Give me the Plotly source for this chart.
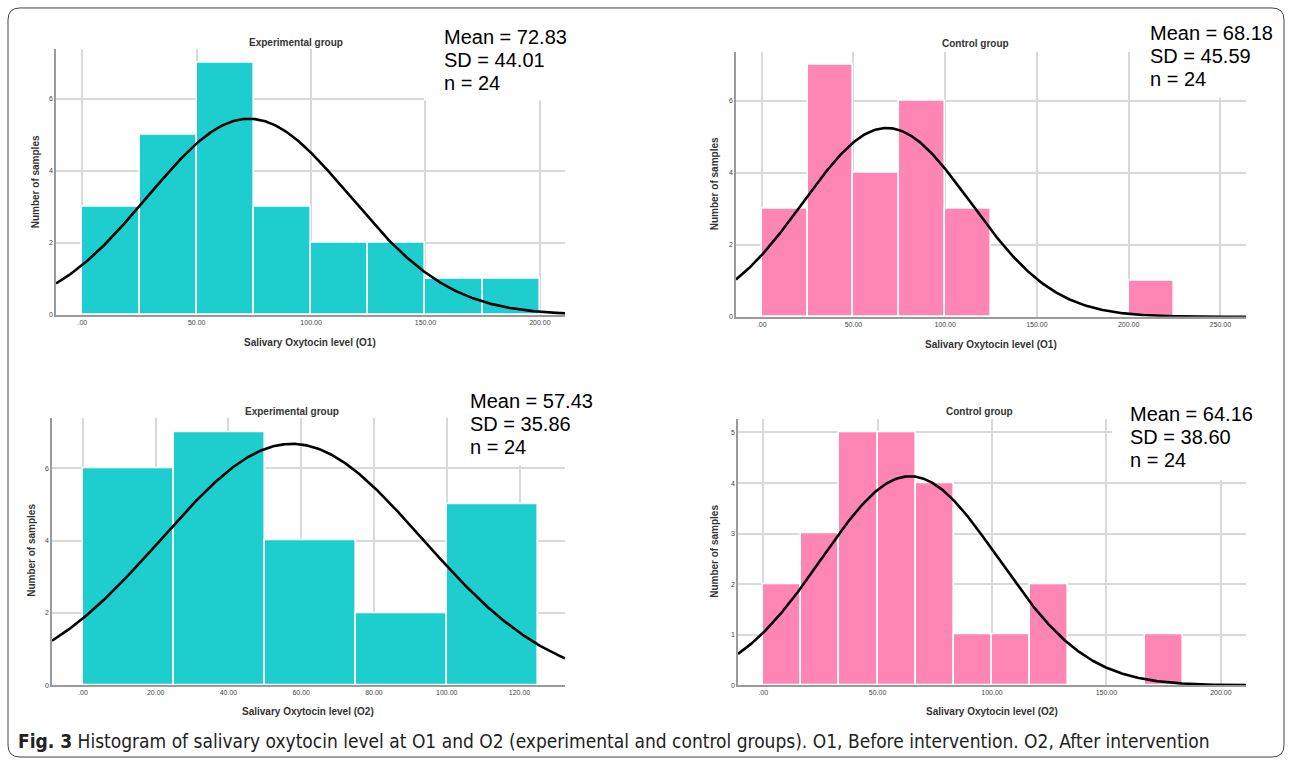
import numpy as np
import plotly.graph_objects as go

W, H = 1292, 764

# ---------------- data ----------------
panel_titles = ["Experimental group", "Control group", "Experimental group", "Control group"]
x_titles = ["Salivary Oxytocin level (O1)", "Salivary Oxytocin level (O1)",
            "Salivary Oxytocin level (O2)", "Salivary Oxytocin level (O2)"]

exp_o1_bins = [0, 25, 50, 75, 100, 125, 150, 175]
exp_o1_counts = [3, 5, 7, 3, 2, 2, 1, 1]
exp_o1_width = 25

ctl_o1_bins = [0, 25, 50, 75, 100, 200]
ctl_o1_counts = [3, 7, 4, 6, 3, 1]
ctl_o1_width = 25

exp_o2_bins = [0, 25, 50, 75, 100]
exp_o2_counts = [6, 7, 4, 2, 5]
exp_o2_width = 25

ctl_o2_bins = [0, 16.667, 33.333, 50, 66.667, 83.333, 100, 116.667, 166.667]
ctl_o2_counts = [2, 3, 5, 5, 4, 1, 1, 2, 1]
ctl_o2_width = 16.667

means = [72.83, 68.18, 57.43, 64.16]
sds = [44.01, 45.59, 35.86, 38.60]
ns = [24, 24, 24, 24]

xtick_vals = [[0, 50, 100, 150, 200], [0, 50, 100, 150, 200, 250],
              [0, 20, 40, 60, 80, 100, 120], [0, 50, 100, 150, 200]]
xtick_text = [[".00", "50.00", "100.00", "150.00", "200.00"],
              [".00", "50.00", "100.00", "150.00", "200.00", "250.00"],
              [".00", "20.00", "40.00", "60.00", "80.00", "100.00", "120.00"],
              [".00", "50.00", "100.00", "150.00", "200.00"]]
ytick_vals = [[0, 2, 4, 6], [0, 2, 4, 6], [0, 2, 4, 6], [0, 1, 2, 3, 4, 5]]

caption_bold = "Fig. 3"
caption_text = ("Histogram of salivary oxytocin level at O1 and O2 (experimental and control groups). "
                "O1, Before intervention. O2, After intervention")

# ---------------- layout geometry (pixels) ----------------
TEAL = "#1ecdcd"
PINK = "#ff85b4"
colors = [TEAL, PINK, TEAL, PINK]
bins_all = [exp_o1_bins, ctl_o1_bins, exp_o2_bins, ctl_o2_bins]
counts_all = [exp_o1_counts, ctl_o1_counts, exp_o2_counts, ctl_o2_counts]
widths_all = [exp_o1_width, ctl_o1_width, exp_o2_width, ctl_o2_width]

boxes = [(56, 565, 49, 316), (736, 1246, 52, 318), (52, 565, 420, 688), (738, 1246, 421, 688)]
xranges = [[-11.5, 211], [-14, 264], [-8.5, 132.5], [-11, 211]]
yranges = [[0, 7.38], [0, 7.37], [0, 7.38], [0, 5.26]]

title_pos = [(296, 43), (976, 44), (292, 413), (979, 413)]
ytitle_pos = [(35, 183), (714, 185), (32, 553), (715, 553)]
xtitle_pos = [(310, 344), (991, 346), (308, 714), (992, 714)]
stat_pos = [(442, 37), (1148, 33), (468, 403), (1128, 416)]
white_boxes = [(424, 600, 0, 101), (1135, 1280, 0, 98), (452, 600, 385, 467), (1112, 1280, 395, 482)]


def px(x):
    return x / W


def py(y):
    return 1 - y / H


fig = go.Figure()
layout = dict(
    width=W, height=H, margin=dict(l=0, r=0, t=0, b=0),
    paper_bgcolor="white", plot_bgcolor="white", showlegend=False,
    bargap=0, font=dict(family="Arial, Liberation Sans, sans-serif", color="#333"),
)
annotations = []
shapes = []

for i in range(4):
    k = "" if i == 0 else str(i + 1)
    xa, ya = "x" + k, "y" + k
    x0, x1, y0, y1 = boxes[i]
    w = widths_all[i]
    centers = [b + w / 2 for b in bins_all[i]]
    fig.add_trace(go.Bar(
        x=centers, y=counts_all[i], width=[w] * len(centers),
        marker=dict(color=colors[i], line=dict(color="white", width=1.6)),
        xaxis=xa, yaxis=ya, hoverinfo="skip",
    ))
    xs = np.linspace(xranges[i][0], xranges[i][1], 400)
    ys = ns[i] * w * np.exp(-0.5 * ((xs - means[i]) / sds[i]) ** 2) / (sds[i] * np.sqrt(2 * np.pi))
    fig.add_trace(go.Scatter(x=xs, y=ys, mode="lines", line=dict(color="black", width=2.6),
                             xaxis=xa, yaxis=ya, hoverinfo="skip"))

    layout["xaxis" + k] = dict(
        domain=[px(x0), px(x1)], range=xranges[i], anchor=ya,
        tickvals=xtick_vals[i], ticktext=xtick_text[i],
        showgrid=True, gridcolor="#d9d9d9", gridwidth=1.5,
        showline=True, linecolor="#9a9a9a", linewidth=1.5,
        ticks="", tickfont=dict(size=7, color="#444"), zeroline=False, fixedrange=True,
    )
    layout["yaxis" + k] = dict(
        domain=[py(y1), py(y0)], range=yranges[i], anchor=xa,
        tickvals=ytick_vals[i], showgrid=True, gridcolor="#d9d9d9", gridwidth=1.5,
        showline=True, linecolor="#9a9a9a", linewidth=1.5,
        ticks="", tickfont=dict(size=7, color="#444"), zeroline=False, fixedrange=True,
    )

    # white box behind statistics text
    bx0, bx1, by0, by1 = white_boxes[i]
    shapes.append(dict(type="rect", xref="paper", yref="paper", layer="above",
                       x0=px(bx0), x1=px(bx1), y0=py(by1), y1=py(by0),
                       fillcolor="white", line=dict(width=0)))

    tx, ty = title_pos[i]
    annotations.append(dict(text="<b>" + panel_titles[i] + "</b>", x=px(tx), y=py(ty),
                            xref="paper", yref="paper", showarrow=False,
                            xanchor="center", yanchor="middle",
                            font=dict(size=10, color="#333")))
    yx, yy = ytitle_pos[i]
    annotations.append(dict(text="<b>Number of samples</b>", x=px(yx), y=py(yy),
                            xref="paper", yref="paper", showarrow=False, textangle=-90,
                            xanchor="center", yanchor="middle",
                            font=dict(size=10, color="#333")))
    xx, xy = xtitle_pos[i]
    annotations.append(dict(text="<b>" + x_titles[i] + "</b>", x=px(xx), y=py(xy),
                            xref="paper", yref="paper", showarrow=False,
                            xanchor="center", yanchor="middle",
                            font=dict(size=10, color="#333")))
    sx, sy = stat_pos[i]
    lines = [f"Mean = {means[i]:.2f}", f"SD = {sds[i]:.2f}", f"n = {ns[i]}"]
    for j, t in enumerate(lines):
        annotations.append(dict(text=t, x=px(sx), y=py(sy + 23 * j),
                                xref="paper", yref="paper", showarrow=False,
                                xanchor="left", yanchor="middle",
                                font=dict(size=20, color="black",
                                          family="Arial, Liberation Sans, sans-serif")))

# caption
annotations.append(dict(text=f"<b>{caption_bold}</b> {caption_text}", x=px(16), y=py(744),
                        xref="paper", yref="paper", showarrow=False,
                        xanchor="left", yanchor="middle",
                        font=dict(size=19, color="#222",
                                  family="DejaVu Sans Condensed, DejaVu Sans, sans-serif")))

# rounded frame
r = 12
fx0, fx1, fy0, fy1 = 8, 1284, 8, 760
path = (f"M {px(fx0 + r)} {py(fy0)} L {px(fx1 - r)} {py(fy0)} "
        f"Q {px(fx1)} {py(fy0)} {px(fx1)} {py(fy0 + r)} "
        f"L {px(fx1)} {py(fy1 - r)} Q {px(fx1)} {py(fy1)} {px(fx1 - r)} {py(fy1)} "
        f"L {px(fx0 + r)} {py(fy1)} Q {px(fx0)} {py(fy1)} {px(fx0)} {py(fy1 - r)} "
        f"L {px(fx0)} {py(fy0 + r)} Q {px(fx0)} {py(fy0)} {px(fx0 + r)} {py(fy0)} Z")
shapes.append(dict(type="path", path=path, xref="paper", yref="paper",
                   line=dict(color="#444", width=1), layer="above"))

layout["annotations"] = annotations
layout["shapes"] = shapes
fig.update_layout(**layout)
fig.write_html("out.html", config={"displayModeBar": False},
               post_script="document.body.style.margin='0px';")
